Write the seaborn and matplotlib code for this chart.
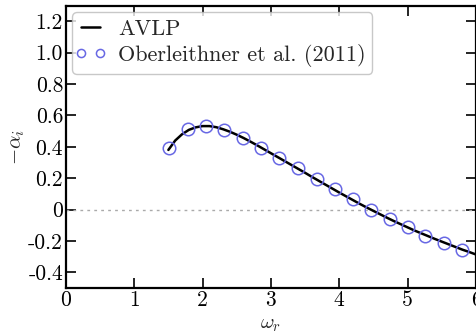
import matplotlib
matplotlib.use("Agg")
import matplotlib.pyplot as plt
from matplotlib.lines import Line2D
from matplotlib.legend_handler import HandlerLine2D
import seaborn as sns
import pandas as pd

# AVLP model curve
avlp_omega = [1.5, 1.6, 1.7, 1.8, 1.9, 2.0, 2.1, 2.2, 2.3, 2.4, 2.5, 2.6, 2.7, 2.8, 2.9,
              3.0, 3.1, 3.2, 3.3, 3.4, 3.5, 3.6, 3.7, 3.8, 3.9, 4.0, 4.1, 4.2, 4.3, 4.4,
              4.5, 4.6, 4.7, 4.8, 4.9, 5.0, 5.1, 5.2, 5.3, 5.4, 5.5, 5.6, 5.7, 5.8, 5.9, 6.0]
avlp_alpha = [0.38, 0.44, 0.48, 0.508, 0.524, 0.532, 0.532, 0.525, 0.512, 0.496, 0.477,
              0.456, 0.433, 0.409, 0.384, 0.359, 0.334, 0.309, 0.284, 0.259, 0.234, 0.208,
              0.183, 0.158, 0.133, 0.108, 0.084, 0.060, 0.036, 0.013, -0.009, -0.031,
              -0.053, -0.074, -0.094, -0.114, -0.134, -0.152, -0.170, -0.188, -0.205,
              -0.222, -0.239, -0.256, -0.271, -0.287]

# Oberleithner et al. (2011) data points
ober_omega = [1.51, 1.78, 2.05, 2.32, 2.59, 2.86, 3.12, 3.39, 3.67, 3.93, 4.20, 4.47,
              4.74, 5.00, 5.26, 5.53, 5.80]
ober_alpha = [0.393, 0.514, 0.535, 0.510, 0.457, 0.393, 0.329, 0.266, 0.196, 0.132,
              0.064, 0.000, -0.059, -0.113, -0.166, -0.212, -0.261]

x_ticks = [0, 1, 2, 3, 4, 5, 6]
y_ticks = [-0.4, -0.2, 0, 0.2, 0.4, 0.6, 0.8, 1.0, 1.2]
y_tick_labels = ["-0.4", "-0.2", "0", "0.2", "0.4", "0.6", "0.8", "1.0", "1.2"]

sns.set_style("ticks")
plt.rcParams["font.family"] = ["cmr10", "DejaVu Serif"]
plt.rcParams["mathtext.fontset"] = "cm"
plt.rcParams["axes.unicode_minus"] = False
plt.rcParams["axes.formatter.use_mathtext"] = True

fig = plt.figure(figsize=(4.77, 3.34), dpi=100)
ax = fig.add_axes([0.138, 0.138, 0.86, 0.845])

avlp_df = pd.DataFrame({"omega": avlp_omega, "alpha": avlp_alpha})
ober_df = pd.DataFrame({"omega": ober_omega, "alpha": ober_alpha})

ax.axhline(0, color="#aaaaaa", linestyle=(0, (2, 3)), linewidth=1.0, zorder=1)
sns.lineplot(data=avlp_df, x="omega", y="alpha", ax=ax, color="black",
             linewidth=1.8, label="AVLP", sort=False, zorder=3)
sns.lineplot(data=ober_df, x="omega", y="alpha", ax=ax, linestyle="", marker="o",
             markersize=9, markerfacecolor="none", markeredgecolor="#6868e4",
             markeredgewidth=1.1, color="#6868e4", label="Oberleithner et al. (2011)",
             sort=False, zorder=4)

ax.set_xlim(0, 6)
ax.set_ylim(-0.5, 1.3)
ax.set_xticks(x_ticks)
ax.set_xticklabels([str(t) for t in x_ticks])
ax.set_yticks(y_ticks)
ax.set_yticklabels(y_tick_labels)
ax.tick_params(direction="in", length=7, width=1.2, top=True, right=True,
               labelsize=15.5, colors="black", pad=2)
for s in ax.spines.values():
    s.set_linewidth(1.6)
    s.set_color("black")
    s.set_visible(True)

ax.set_xlabel(r"$\omega_r$", fontsize=15, labelpad=4)
ax.set_ylabel(r"$-\alpha_i$", fontsize=15, labelpad=1)

leg = ax.legend(loc="upper left", numpoints=2, markerscale=0.65, fontsize=16,
                handlelength=1.05, handletextpad=0.7, borderpad=0.3,
                labelspacing=0.25, frameon=True, fancybox=True, borderaxespad=0.3,
                handler_map={Line2D: HandlerLine2D(marker_pad=0.1)})
leg.get_frame().set_edgecolor("#bbbbbb")
leg.get_frame().set_linewidth(1.0)

fig.savefig("out.png", dpi=100)
